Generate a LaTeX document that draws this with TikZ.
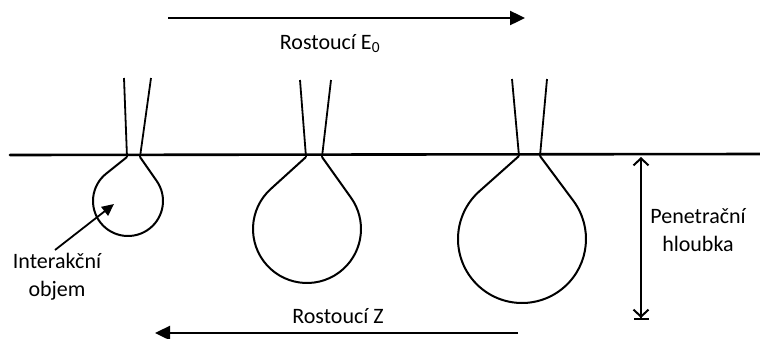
\documentclass[tikz,border=0pt]{standalone}
\usepackage{fontspec}
\setmainfont{Carlito}
\usetikzlibrary{arrows.meta,calc}

\tikzset{
  surface/.style={line width=2.6pt, line cap=round},
  beam/.style={line width=1.8pt},
  drop/.style={line width=2pt, line join=round},
  bigarrow/.style={line width=2.4pt, -{Triangle[length=15pt,width=14pt]}},
  smallarrow/.style={line width=1.8pt, -{Triangle[length=12pt,width=11pt]}},
  depth/.style={line width=2pt,
    {Straight Barb[length=7pt,width=15pt,line width=2pt]}-{Straight Barb[length=7pt,width=15pt,line width=2pt]Bar[width=15pt,line width=2pt]}},
  label/.style={font=\fontsize{22}{28}\selectfont, inner sep=0pt, align=center}
}

\begin{document}
\begin{tikzpicture}[x=1pt,y=1pt]
  \useasboundingbox (0,0) rectangle (760,-338);

  % specimen surface
  \coordinate (sL) at (10,-155);
  \coordinate (sR) at (760,-154);
  \draw[surface] (sL) -- (sR);

  % beam 1 and its interaction volume
  \coordinate (b1a) at (124,-78);  \coordinate (n1a) at (127,-157);
  \coordinate (b1b) at (151,-78);  \coordinate (n1b) at (140,-157);
  \coordinate (c1) at (128,-201);
  \draw[beam] (b1a) -- (n1a);
  \draw[beam] (b1b) -- (n1b);
  \draw[drop] (n1a) -- ($(c1)+(128.6:35)$)
    arc[start angle=128.6, end angle=394.8, radius=35] -- (n1b);

  % beam 2 and its interaction volume
  \coordinate (b2a) at (300,-80);  \coordinate (n2a) at (306,-157);
  \coordinate (b2b) at (331,-80);  \coordinate (n2b) at (322,-157);
  \coordinate (c2) at (307,-229);
  \draw[beam] (b2a) -- (n2a);
  \draw[beam] (b2b) -- (n2b);
  \draw[drop] (n2a) -- ($(c2)+(132.2:54)$)
    arc[start angle=132.2, end angle=395.5, radius=54] -- (n2b);

  % beam 3 and its interaction volume
  \coordinate (b3a) at (512,-79);  \coordinate (n3a) at (519,-156);
  \coordinate (b3b) at (547,-79);  \coordinate (n3b) at (540,-156);
  \coordinate (c3) at (522,-239);
  \draw[beam] (b3a) -- (n3a);
  \draw[beam] (b3b) -- (n3b);
  \draw[drop] (n3a) -- ($(c3)+(131.7:64)$)
    arc[start angle=131.7, end angle=396.7, radius=64] -- (n3b);

  % increasing beam energy
  \coordinate (eA) at (168,-18);
  \coordinate (eB) at (525,-18);
  \draw[bigarrow] (eA) -- (eB);
  \node[label, anchor=base] (energy) at (330,-49) {Rostoucí E\textsubscript{0}};

  % increasing atomic number
  \coordinate (zA) at (518,-333);
  \coordinate (zB) at (155,-333);
  \draw[bigarrow] (zA) -- (zB);
  \node[label, anchor=base] (atomic) at (338,-323) {Rostoucí Z};

  % penetration depth
  \coordinate (dT) at (641,-157);
  \coordinate (dB) at (641,-320);
  \draw[depth] (dT) -- (dB);
  \node[label] (pen) at (698,-230) {Penetrační\\hloubka};

  % interaction volume label
  \node[label] (vol) at (57,-277) {Interakční\\objem};
  \coordinate (vA) at (55,-250);
  \coordinate (vB) at (114,-204);
  \draw[smallarrow] (vA) -- (vB);
\end{tikzpicture}
\end{document}
